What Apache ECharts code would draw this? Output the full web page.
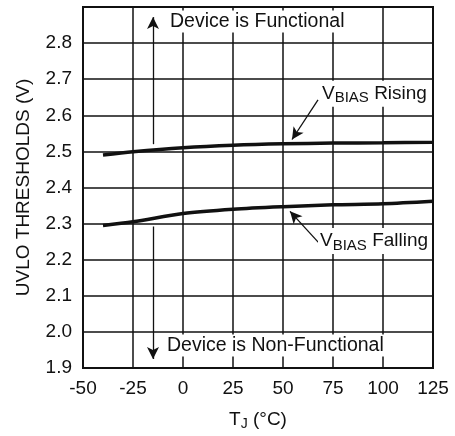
<!DOCTYPE html>
<html>
<head>
<meta charset="utf-8">
<script src="https://cdn.jsdelivr.net/npm/echarts@6/dist/echarts.min.js"></script>
<style>
  html, body { margin: 0; padding: 0; background: #fff; }
  #chart { width: 455px; height: 436px; }
</style>
</head>
<body>
<div id="chart"></div>
<script>
// junction temperature (°C)
const temps = [-40, -25, 0, 25, 50, 75, 100, 125]
// UVLO thresholds (V)
const risingV = [2.490, 2.499, 2.510, 2.517, 2.521, 2.523, 2.524, 2.525]
const fallingV = [2.295, 2.305, 2.328, 2.340, 2.347, 2.352, 2.355, 2.362]
const yTicks = [1.9, 2.0, 2.1, 2.2, 2.3, 2.4, 2.5, 2.6, 2.7, 2.8]

const font = 'Liberation Sans, Arial, sans-serif'
const black = '#111'

const pairs = (xs, ys) => xs.map((x, i) => [x, ys[i]])

const arrowLine = (from, to) => ([{ coord: from }, { coord: to }])

const subRich = {
  v: { fontSize: 19, color: black, fontFamily: font },
  s: { fontSize: 15, color: black, fontFamily: font, padding: [9, 0, 0, 0] }
}

const chart = echarts.init(document.getElementById('chart'))

chart.setOption({
  animation: false,
  backgroundColor: '#fff',
  textStyle: { fontFamily: font },
  grid: {
    left: 83,
    right: 22,
    top: 7,
    bottom: 67,
    show: true,
    borderColor: black,
    borderWidth: 2
  },
  xAxis: {
    type: 'value',
    min: -50,
    max: 125,
    interval: 25,
    name: '{a|T}{b|J}{a| (°C)}',
    nameLocation: 'middle',
    nameGap: 40,
    nameTextStyle: {
      rich: {
        a: { fontSize: 19, color: black, fontFamily: font },
        b: { fontSize: 14, color: black, fontFamily: font, padding: [9, 0, 0, 0] }
      }
    },
    axisLine: { onZero: false, lineStyle: { color: black, width: 2 } },
    axisTick: { show: false },
    axisLabel: { fontSize: 19, color: black, margin: 11 },
    splitLine: { lineStyle: { color: black, width: 1.5 } }
  },
  yAxis: {
    type: 'value',
    min: 1.9,
    max: 2.9,
    interval: 0.1,
    name: 'UVLO THRESHOLDS (V)',
    nameLocation: 'middle',
    nameGap: 50,
    nameTextStyle: { fontSize: 19, color: black },
    axisLine: { onZero: false, lineStyle: { color: black, width: 2 } },
    axisTick: { show: false },
    axisLabel: {
      fontSize: 19,
      color: black,
      margin: 11,
      formatter: v => {
        const t = yTicks.find(k => Math.abs(k - v) < 1e-6)
        return t === undefined ? '' : t.toFixed(1)
      }
    },
    splitLine: { lineStyle: { color: black, width: 1.5 } }
  },
  series: [
    {
      name: 'VBIAS Rising',
      type: 'line',
      smooth: 0.3,
      showSymbol: false,
      data: pairs(temps, risingV),
      lineStyle: { color: black, width: 3.5 },
      markLine: {
        silent: true,
        symbol: ['none', 'arrow'],
        symbolSize: [9, 12],
        label: { show: false },
        lineStyle: { color: black, width: 1.3, type: 'solid' },
        data: [
          arrowLine([67.5, 2.643], [54.5, 2.533]),
          arrowLine([68.5, 2.243], [53.5, 2.334]),
          arrowLine([-15, 2.52], [-15, 2.872]),
          arrowLine([-15, 2.292], [-15, 1.925])
        ]
      },
      markPoint: {
        silent: true,
        symbolSize: 0,
        label: {
          show: true,
          position: 'right',
          distance: 0,
          color: black,
          fontSize: 19,
          fontFamily: font,
          backgroundColor: '#fff',
          padding: [1, 2, 1, 2]
        },
        data: [
          { coord: [-7.5, 2.86], label: { formatter: 'Device is Functional', fontSize: 19.5 } },
          { coord: [-9, 1.962], label: { formatter: 'Device is Non-Functional', fontSize: 19.5 } },
          {
            coord: [68.5, 2.66],
            label: { formatter: '{v|V}{s|BIAS}{v| Rising}', rich: subRich }
          },
          {
            coord: [67.5, 2.252],
            label: { formatter: '{v|V}{s|BIAS}{v| Falling}', rich: subRich }
          }
        ]
      }
    },
    {
      name: 'VBIAS Falling',
      type: 'line',
      smooth: 0.3,
      showSymbol: false,
      data: pairs(temps, fallingV),
      lineStyle: { color: black, width: 3.5 }
    }
  ]
})
</script>
</body>
</html>
